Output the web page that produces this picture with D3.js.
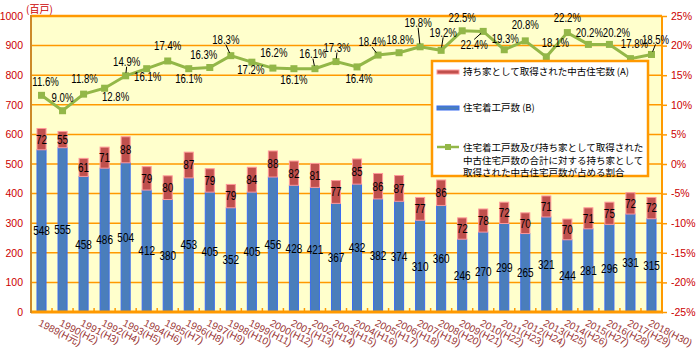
<!DOCTYPE html>
<html>
<head>
<meta charset="utf-8">
<script src="https://cdn.jsdelivr.net/npm/d3@7"></script>
<style>
  body { margin: 0; background: #fff; }
  svg text { font-family: "Liberation Sans", "Noto Sans CJK JP", sans-serif; }
  .jp { font-family: "Noto Sans CJK JP", sans-serif !important; }
</style>
</head>
<body>
<figure class="chart" style="margin:0"></figure>
<script>
// categories (year + era)
var categories = ["1989(H元)","1990(H2)","1991(H3)","1992(H4)","1993(H5)","1994(H6)","1995(H7)","1996(H8)","1997(H9)","1998(H10)",
                  "1999(H11)","2000(H12)","2001(H13)","2002(H14)","2003(H15)","2004(H16)","2005(H17)","2006(H18)","2007(H19)","2008(H20)",
                  "2009(H21)","2010(H22)","2011(H23)","2012(H24)","2013(H25)","2014(H26)","2015(H27)","2016(H28)","2017(H29)","2018(H30)"];

// 住宅着工戸数 (B)
var startsB = [548,555,458,486,504,412,380,453,405,352,405,456,428,421,367,432,382,374,310,360,246,270,299,265,321,244,281,296,331,315];
// 持ち家として取得された中古住宅数 (A)
var usedA = [72,55,61,71,88,79,80,87,79,79,84,88,82,81,77,85,86,87,77,86,72,78,72,70,71,70,71,75,72,72];
// share (%)
var shareP = [11.6,9.0,11.8,12.8,14.9,16.1,17.4,16.1,16.3,18.3,17.2,16.2,16.1,16.1,17.3,16.4,18.4,18.8,19.8,19.2,22.5,22.4,19.3,20.8,18.1,22.2,20.2,20.2,17.8,18.5];

var leftTicks = [0,100,200,300,400,500,600,700,800,900,1000];
var rightTicks = [-25,-20,-15,-10,-5,0,5,10,15,20,25];

var legendLabels = ["持ち家として取得された中古住宅数 (A)", "住宅着工戸数 (B)",
  ["住宅着工戸数及び持ち家として取得された", "中古住宅戸数の合計に対する持ち家として", "取得された中古住宅戸数が占める割合"]];

// label placement for the % labels (offset from the point) + which ones get a leader line
var pctOffset = [[4,-14],[0,-13],[1,-15],[11,9],[1,-14],[1,8],[0,-15],[0,10],[-6,-13],[-5,-16],
                 [-1,8],[1,-15],[0,11],[-2,-15],[1,-14],[2,12],[-6,-13],[1,-13],[-2,-24],[2,-18],
                 [0,-13],[-9,13],[1,-11],[0,-16],[9,-14],[0,-15],[1,-12],[7,-12],[4,-15],[4,-15]];
var pctLeader = [4,9,13,14,16,18,19,21,29];

var W = 700, H = 352;
var plot = {left: 31, right: 662, top: 16, bottom: 312};
var squeeze = 0.8; //narrow number labels

var svg = d3.select("figure.chart").append("svg")
            .attr("width", W).attr("height", H)
            .attr("viewBox", `0 0 ${W} ${H}`);

var x = d3.scaleBand().domain(categories)
          .range([plot.left, plot.right])
          .paddingInner(0.57).paddingOuter(0.285);
var y = d3.scaleLinear().domain([0,1000]).range([plot.bottom, plot.top]);
var yR = d3.scaleLinear().domain([-25,25]).range([plot.bottom, plot.top]);

//background
svg.append("rect")
   .attr("x", plot.left).attr("y", plot.top)
   .attr("width", plot.right - plot.left).attr("height", plot.bottom - plot.top)
   .attr("fill", "#ffffcc");

//gridlines
svg.append("g").selectAll("line")
   .data(leftTicks.filter(d => d > 0))
   .enter().append("line")
     .attr("x1", plot.left).attr("x2", plot.right)
     .attr("y1", d => y(d)).attr("y2", d => y(d))
     .attr("stroke", "#ff9900")
     .attr("stroke-width", d => d == 1000 ? 2.5 : 1.5);

//right frame
svg.append("line")
   .attr("x1", plot.right).attr("x2", plot.right)
   .attr("y1", plot.top).attr("y2", plot.bottom)
   .attr("stroke", "#ff9900").attr("stroke-width", 2);

//bars
var cx = d => x(d) + x.bandwidth()/2;
var bars = svg.append("g");
bars.selectAll(".barB")
    .data(categories)
    .enter().append("rect")
      .attr("class", "barB")
      .attr("x", d => x(d))
      .attr("width", x.bandwidth())
      .attr("y", (d,i) => y(startsB[i]))
      .attr("height", (d,i) => y(0) - y(startsB[i]))
      .attr("fill", "#4a7ebb")
      .attr("stroke", "#3a6cf0")
      .attr("stroke-width", 1);
bars.selectAll(".barA")
    .data(categories)
    .enter().append("rect")
      .attr("class", "barA")
      .attr("x", d => x(d))
      .attr("width", x.bandwidth())
      .attr("y", (d,i) => y(startsB[i] + usedA[i]))
      .attr("height", (d,i) => y(startsB[i]) - y(startsB[i] + usedA[i]))
      .attr("fill", "#c0504d")
      .attr("stroke", "#ff9999")
      .attr("stroke-width", 1);

//bar labels
bars.selectAll(".lblB")
    .data(categories)
    .enter().append("text")
      .attr("transform", (d,i) => `translate(${cx(d)},${y(startsB[i]/2)}) scale(${squeeze},1)`)
      .attr("dy", "0.35em")
      .attr("text-anchor", "middle")
      .attr("font-size", 12.5)
      .attr("fill", "#000")
      .text((d,i) => startsB[i]);
bars.selectAll(".lblA")
    .data(categories)
    .enter().append("text")
      .attr("transform", (d,i) => `translate(${cx(d)},${y(startsB[i] + usedA[i]/2)}) scale(${squeeze},1)`)
      .attr("dy", "0.35em")
      .attr("text-anchor", "middle")
      .attr("font-size", 12.5)
      .attr("fill", "#000")
      .text((d,i) => usedA[i]);

//bottom axis
svg.append("line")
   .attr("x1", plot.left).attr("x2", plot.right + 1)
   .attr("y1", plot.bottom).attr("y2", plot.bottom)
   .attr("stroke", "#ff9900").attr("stroke-width", 3);
svg.append("g").selectAll("line")
   .data(categories.slice(1))
   .enter().append("line")
     .attr("x1", d => x(d) + x.bandwidth()/2 - x.step()/2)
     .attr("x2", d => x(d) + x.bandwidth()/2 - x.step()/2)
     .attr("y1", plot.bottom).attr("y2", plot.bottom - 4)
     .attr("stroke", "#ff9900").attr("stroke-width", 1.5);

//left axis line
svg.append("line")
   .attr("x1", plot.left).attr("x2", plot.left)
   .attr("y1", plot.top - 1).attr("y2", plot.bottom + 1)
   .attr("stroke", "#cc8a2a").attr("stroke-width", 2);

//left axis labels
var yAxis = d3.axisLeft(y).tickValues(leftTicks).tickSize(0).tickPadding(8)
              .tickFormat(d3.format("d"));
var gy = svg.append("g").attr("transform", `translate(${plot.left},0)`).call(yAxis);
gy.select(".domain").remove();
gy.selectAll("text").attr("fill", "#cc0000").attr("font-size", 10.5)
  .attr("font-family", "Liberation Sans");

svg.append("text")
   .attr("class", "jp")
   .attr("x", 26).attr("y", 13)
   .attr("font-size", 10)
   .attr("fill", "#cc0000")
   .text("(百戸)");

//right axis
var yAxisR = d3.axisRight(yR).tickValues(rightTicks).tickSize(5).tickPadding(4)
               .tickFormat(d => d + "%");
var gyR = svg.append("g").attr("transform", `translate(${plot.right},0)`).call(yAxisR);
gyR.select(".domain").remove();
gyR.selectAll("line").attr("stroke", "#ff9900").attr("stroke-width", 1.5);
gyR.selectAll("text").attr("fill", "#cc0000").attr("font-size", 10.5)
   .attr("font-family", "Liberation Sans");

//x labels
svg.append("g").selectAll("text")
   .data(categories)
   .enter().append("text")
     .attr("transform", d => `translate(${cx(d) - 1},${plot.bottom + 8}) rotate(27)`)
     .attr("y", 6)
     .attr("font-size", 10)
     .attr("fill", "#993333")
     .text(d => d);

//share line (right axis)
var line = d3.line()
             .x((d,i) => cx(categories[i]))
             .y(d => yR(d));
svg.append("path")
   .datum(shareP)
   .attr("d", line)
   .attr("fill", "none")
   .attr("stroke", "#93b748")
   .attr("stroke-width", 3);
svg.append("g").selectAll("rect")
   .data(shareP)
   .enter().append("rect")
     .attr("x", (d,i) => cx(categories[i]) - 3.5)
     .attr("y", d => yR(d) - 3.5)
     .attr("width", 7).attr("height", 7)
     .attr("fill", "#93b748");

//leader lines
svg.append("g").selectAll("line")
   .data(pctLeader)
   .enter().append("line")
     .each(function(i){
        var px = cx(categories[i]), py = yR(shareP[i]);
        var o = pctOffset[i];
        var sx = px + o[0], sy = py + o[1] + (o[1] < 0 ? 5 : -5);
        var dx = px - sx, dy = py - sy, len = Math.sqrt(dx*dx + dy*dy);
        d3.select(this)
          .attr("x1", sx).attr("y1", sy)
          .attr("x2", px - dx/len*3).attr("y2", py - dy/len*3);
     })
     .attr("stroke", "#000").attr("stroke-width", 1);

//% labels
svg.append("g").selectAll("text")
   .data(shareP)
   .enter().append("text")
     .attr("transform", (d,i) => `translate(${cx(categories[i]) + pctOffset[i][0]},${yR(d) + pctOffset[i][1]}) scale(${squeeze},1)`)
     .attr("dy", "0.35em")
     .attr("text-anchor", "middle")
     .attr("font-size", 12)
     .attr("fill", "#000")
     .text(d => d.toFixed(1) + "%");

//legend
var lg = svg.append("g");
lg.append("rect")
  .attr("x", 432).attr("y", 61).attr("width", 216).attr("height", 115)
  .attr("fill", "#fff").attr("stroke", "#ff9900").attr("stroke-width", 2.5);
lg.append("rect")
  .attr("x", 437).attr("y", 70).attr("width", 22).attr("height", 4)
  .attr("fill", "#c0504d").attr("stroke", "#ff9999").attr("stroke-width", 1);
lg.append("text").attr("class", "jp")
  .attr("x", 463).attr("y", 72).attr("dy", "0.35em")
  .attr("font-size", 9.5).attr("fill", "#000")
  .text(legendLabels[0]);
lg.append("rect")
  .attr("x", 437).attr("y", 106).attr("width", 22).attr("height", 4)
  .attr("fill", "#4a7ebb").attr("stroke", "#3a6cf0").attr("stroke-width", 1);
lg.append("text").attr("class", "jp")
  .attr("x", 463).attr("y", 108).attr("dy", "0.35em")
  .attr("font-size", 9.5).attr("fill", "#000")
  .text(legendLabels[1]);
lg.append("line")
  .attr("x1", 437).attr("x2", 459).attr("y1", 147).attr("y2", 147)
  .attr("stroke", "#93b748").attr("stroke-width", 2.5);
lg.append("rect")
  .attr("x", 445).attr("y", 144).attr("width", 6).attr("height", 6)
  .attr("fill", "#93b748");
lg.selectAll(".lg3")
  .data(legendLabels[2])
  .enter().append("text").attr("class", "jp")
    .attr("x", 463).attr("y", (d,i) => 148 + i*12.3).attr("dy", "0.35em")
    .attr("font-size", 9.5).attr("fill", "#000")
    .text(d => d);
</script>
</body>
</html>
